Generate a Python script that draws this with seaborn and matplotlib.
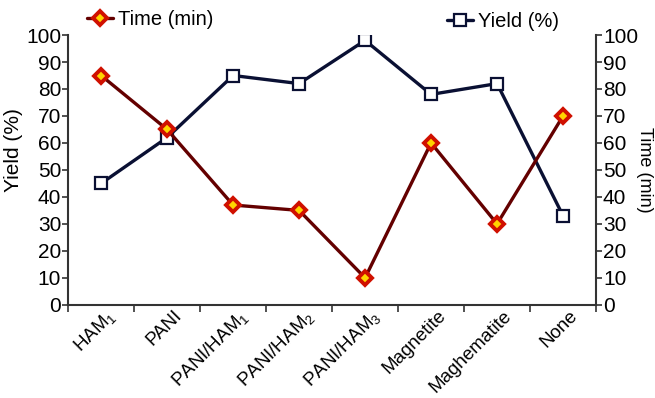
import matplotlib
matplotlib.use("Agg")
import matplotlib.pyplot as plt
import matplotlib.transforms as mtransforms
import seaborn as sns
import pandas as pd
import numpy as np

categories = ["HAM$_1$", "PANI", "PANI/HAM$_1$", "PANI/HAM$_2$", "PANI/HAM$_3$",
              "Magnetite", "Maghematite", "None"]
time_min = [85, 65, 37, 35, 10, 60, 30, 70]
yield_pct = [45, 62, 85, 82, 98, 78, 82, 33]
y_ticks = [0, 10, 20, 30, 40, 50, 60, 70, 80, 90, 100]

sns.set_style("white")
plt.rcParams['font.family'] = ['Liberation Sans', 'DejaVu Sans']
plt.rcParams['mathtext.default'] = 'regular'
plt.rcParams['text.color'] = 'black'
plt.rcParams['axes.labelcolor'] = 'black'
plt.rcParams['xtick.color'] = 'black'
plt.rcParams['ytick.color'] = 'black'

df = pd.DataFrame({"x": np.arange(len(categories)), "time": time_min, "yield": yield_pct})

fig = plt.figure(figsize=(6.55, 3.98), dpi=100)
ax = fig.add_axes([0.104, 0.234, 0.806, 0.678])
ax2 = ax.twinx()

sns.lineplot(data=df, x="x", y="yield", ax=ax, color="#0a1033", lw=2.4,
             marker="s", markersize=8, markerfacecolor="white",
             markeredgecolor="#0a1033", markeredgewidth=1.6, label="Yield (%)", legend=False)
sns.lineplot(data=df, x="x", y="time", ax=ax2, color="#640000", lw=2.4,
             marker="D", markersize=7, markerfacecolor="#ffd400",
             markeredgecolor="#d01000", markeredgewidth=2.8, label="Time (min)", legend=False)

for a in (ax, ax2):
    a.set_ylim(0, 100)
    a.set_xlim(-0.5, len(categories) - 0.5)
    a.set_yticks(y_ticks)
    a.tick_params(axis='y', labelsize=15, length=4, width=1.2, color="#333333", pad=1)
    for s in a.spines.values():
        s.set_visible(False)

ax.spines['left'].set_visible(True)
ax.spines['bottom'].set_visible(True)
ax2.spines['right'].set_visible(True)
for s in (ax.spines['left'], ax.spines['bottom'], ax2.spines['right']):
    s.set_color("#333333")
    s.set_linewidth(1.5)

ax.tick_params(axis='y', left=True, direction='out')
ax2.tick_params(axis='y', right=True, direction='out')

ax.set_xticks(np.arange(-0.5, len(categories) + 0.5, 1.0))
ax.set_xticklabels([])
ax.tick_params(axis='x', bottom=True, length=5, width=1.2, color="#333333", direction='out')
ax.set_xticks(np.arange(len(categories)), minor=True)
ax.set_xticklabels(categories, minor=True, rotation=45, ha='right', va='center',
                   rotation_mode='anchor', fontsize=13.5)
ax.tick_params(axis='x', which='minor', length=0, pad=6)
offset = mtransforms.ScaledTranslation(12 / 100, 0, fig.dpi_scale_trans)
for lab in ax.get_xticklabels(minor=True):
    lab.set_transform(lab.get_transform() + offset)

ax.set_xlabel("")
ax.set_ylabel("Yield (%)", fontsize=15)
ax.yaxis.set_label_coords(-0.086, 0.575)
ax2.set_ylabel("Time (min)", fontsize=13, rotation=270, va='center')
ax2.yaxis.set_label_coords(1.092, 0.50)

h1, l1 = ax2.get_legend_handles_labels()
h2, l2 = ax.get_legend_handles_labels()
fig.legend(h1, l1, loc='center left', bbox_to_anchor=(0.133, 0.95), frameon=False,
           fontsize=14.5, handlelength=1.3, handletextpad=0.25, borderaxespad=0, borderpad=0)
fig.legend(h2, l2, loc='center left', bbox_to_anchor=(0.682, 0.945), frameon=False,
           fontsize=14.5, handlelength=1.3, handletextpad=0.25, borderaxespad=0, borderpad=0)

fig.savefig("out.png", dpi=100)
